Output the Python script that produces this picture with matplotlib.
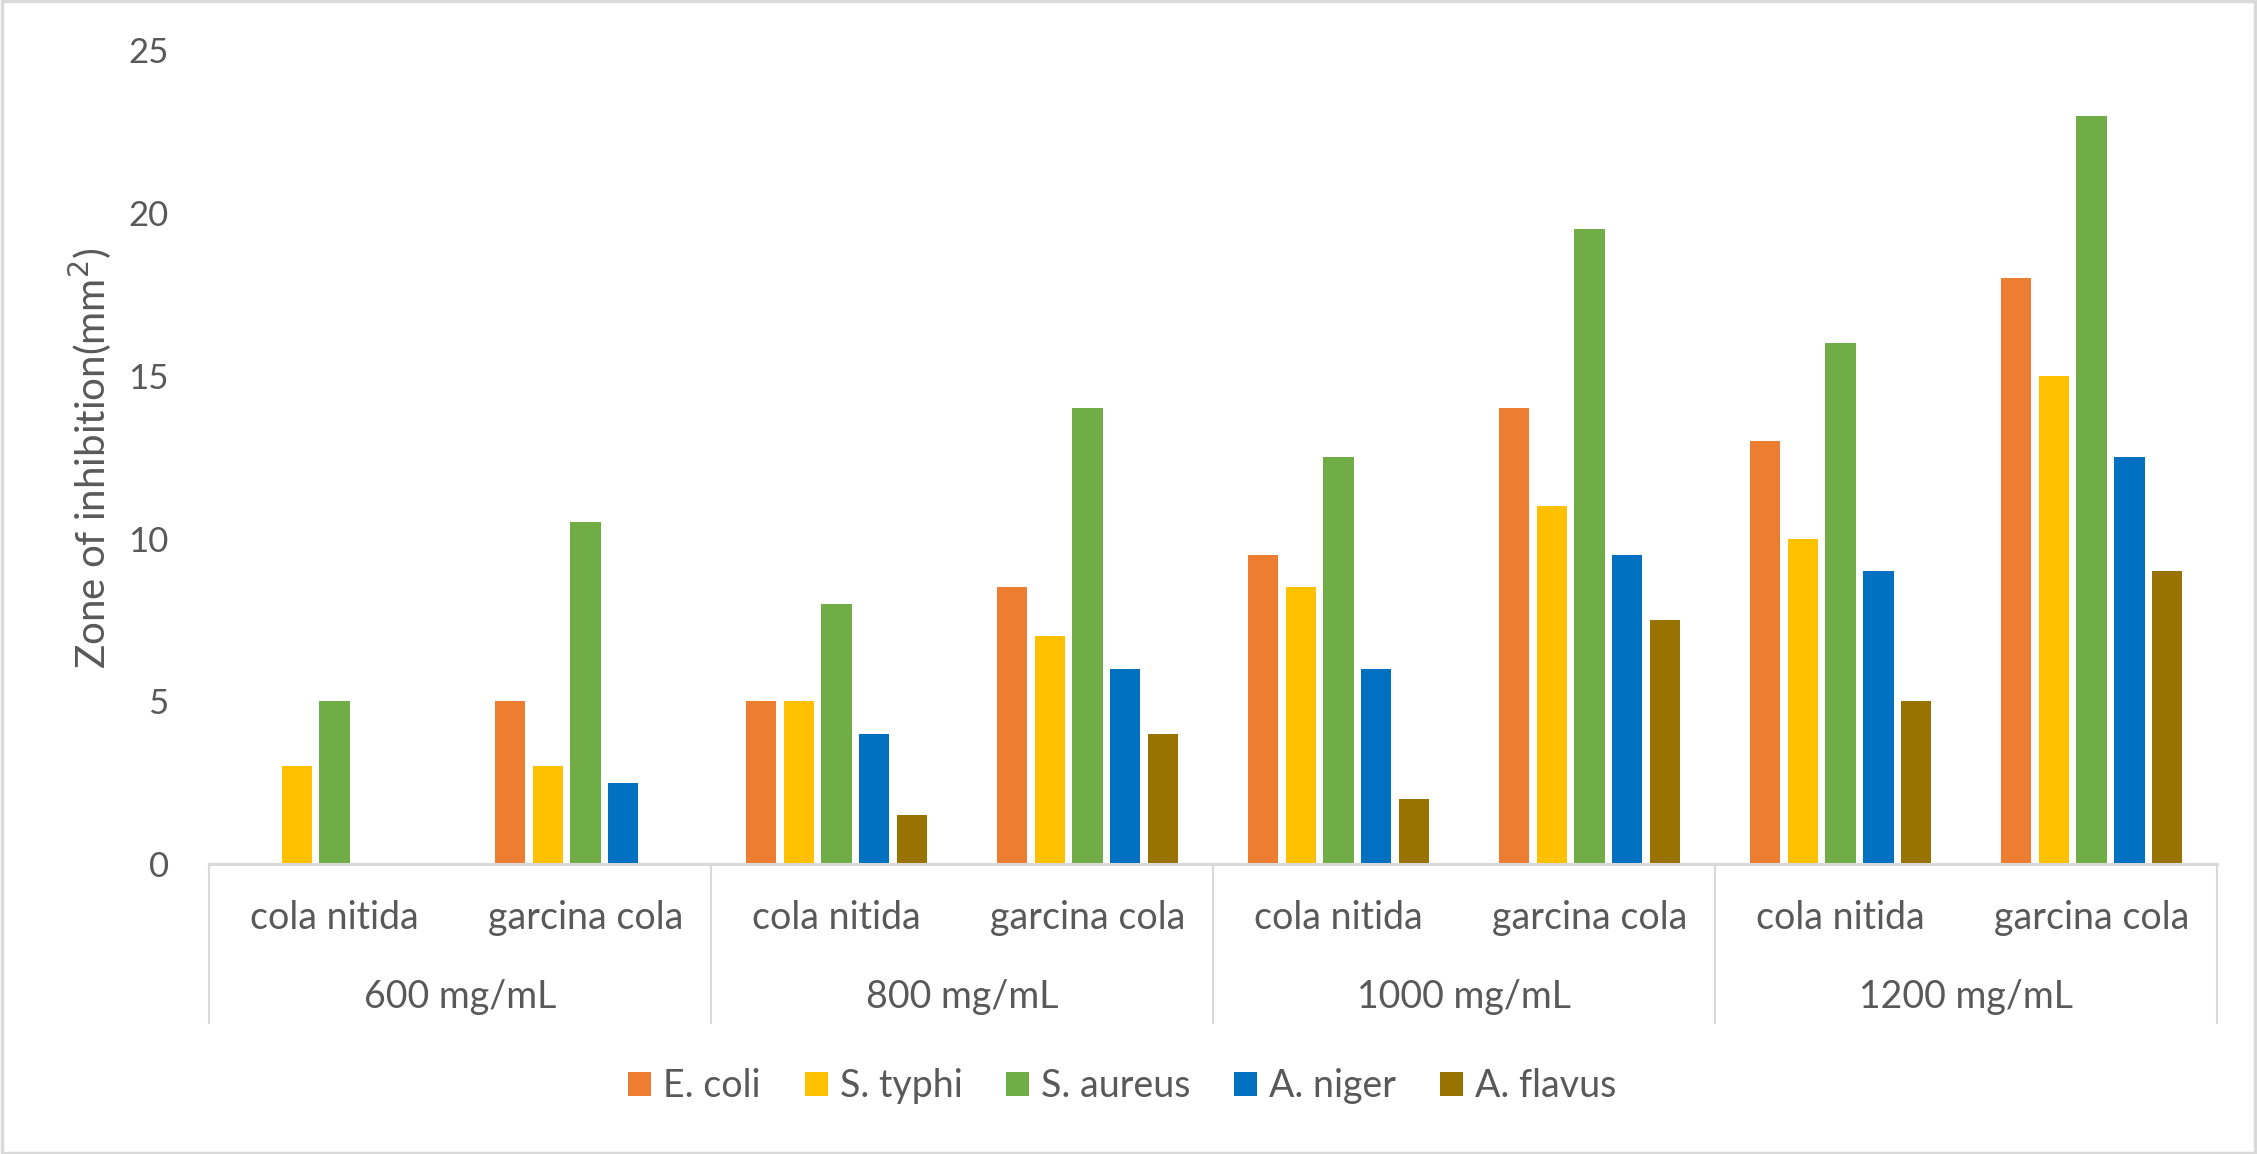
import matplotlib.pyplot as plt
import numpy as np
from matplotlib.patches import Rectangle

concentrations = ['600 mg/mL', '800 mg/mL', '1000 mg/mL', '1200 mg/mL']
extracts = ['cola nitida', 'garcina cola']

e_coli = [0, 5, 5, 8.5, 9.5, 14, 13, 18]
s_typhi = [3, 3, 5, 7, 8.5, 11, 10, 15]
s_aureus = [5, 10.5, 8, 14, 12.5, 19.5, 16, 23]
a_niger = [0, 2.5, 4, 6, 6, 9.5, 9, 12.5]
a_flavus = [0, 0, 1.5, 4, 2, 7.5, 5, 9]

series = [('E. coli', e_coli, '#ED7D31'),
          ('S. typhi', s_typhi, '#FFC000'),
          ('S. aureus', s_aureus, '#70AD47'),
          ('A. niger', a_niger, '#0070C0'),
          ('A. flavus', a_flavus, '#997300')]

plt.rcParams['font.family'] = ['Lato', 'DejaVu Sans']
txt = '#595959'
grey = '#D9D9D9'

fig = plt.figure(figsize=(22.57, 11.54), dpi=100)
ax = fig.add_axes([0.0926, 0.2513, 0.8897, 0.705])

x = np.arange(len(e_coli))
w = 0.12
step = 0.151
for i, (name, vals, col) in enumerate(series):
    ax.bar(x + (i - 2) * step, vals, w, color=col, label=name)

ax.set_xlim(-0.5, 7.5)
ax.set_ylim(0, 25)
ax.set_yticks([0, 5, 10, 15, 20, 25])
ax.tick_params(axis='y', length=0, pad=29, labelsize=25, labelcolor=txt)
ax.set_xticks([])
for s in ['top', 'right', 'left']:
    ax.spines[s].set_visible(False)
ax.spines['bottom'].set_color(grey)
ax.spines['bottom'].set_linewidth(2.2)

trans = ax.get_xaxis_transform()
for i in x:
    ax.text(i, -0.066, extracts[i % 2], transform=trans, ha='center', va='center',
            fontsize=27, color=txt)
for g, lab in enumerate(concentrations):
    ax.text(2 * g + 0.5, -0.163, lab, transform=trans, ha='center', va='center',
            fontsize=27, color=txt)
for xb in [-0.5, 1.5, 3.5, 5.5, 7.5]:
    ax.plot([xb, xb], [0, -0.195], transform=trans, color=grey, lw=1.5, clip_on=False)

fig.text(0.0403, 0.603, 'Zone of inhibition(mm$^2$)', rotation=90, ha='center', va='center',
         fontsize=29, color=txt)

fig.legend(loc='center', bbox_to_anchor=(0.4973, 0.059), ncol=5, frameon=False,
           fontsize=27, labelcolor=txt, handlelength=0.61, handleheight=0.61,
           handletextpad=0.32, columnspacing=1.17)

fig.patches.append(Rectangle((0.001, 0.001), 0.998, 0.998, transform=fig.transFigure,
                             fill=False, edgecolor=grey, lw=2.5))

fig.savefig('out.png', dpi=100)
